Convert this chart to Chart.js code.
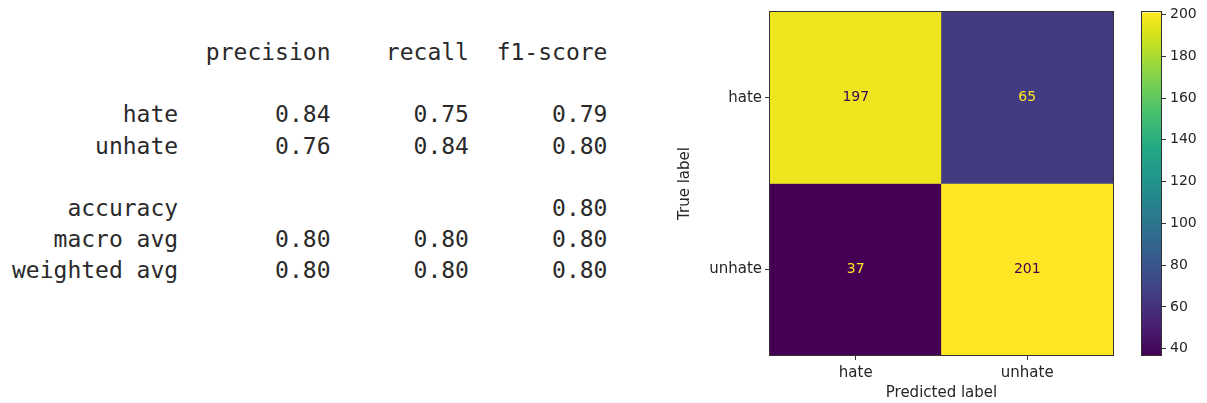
<!DOCTYPE html>
<html>
<head>
<meta charset="utf-8">
<script src="https://cdn.jsdelivr.net/npm/chart.js@4.4.0/dist/chart.umd.min.js"></script>
<style>
  body { margin: 0; background: #fff; width: 1207px; height: 403px; overflow: hidden; position: relative; }
  #report { position: absolute; left: 12px; top: 37px; margin: 0; font-family: "DejaVu Sans Mono", monospace; font-size: 23px; line-height: 31.2px; color: #2a2a2a; }
  #cmBox { position: absolute; left: 660px; top: 0; width: 480px; height: 403px; }
  #cbBox { position: absolute; left: 1130px; top: 0; width: 77px; height: 403px; }
</style>
</head>
<body>
<pre id="report"></pre>
<div id="cmBox"><canvas id="cm" width="480" height="403"></canvas></div>
<div id="cbBox"><canvas id="cb" width="77" height="403"></canvas></div>
<script>
// classification report
const reportRows = ["hate", "unhate", "macro avg", "weighted avg"];
const precision = [0.84, 0.76, 0.80, 0.80];
const recall = [0.75, 0.84, 0.80, 0.80];
const f1 = [0.79, 0.80, 0.80, 0.80];
const accuracy = 0.80;

// confusion matrix (rows = true label, columns = predicted label)
const labels = ["hate", "unhate"];
const trueHate = [197, 65];
const trueUnhate = [37, 201];
const cbTicks = [40, 60, 80, 100, 120, 140, 160, 180, 200];

const textColor = "#262626";
const lineColor = "#333";

// build the report text the way sklearn lays it out
const w = 12;
function row(name, vals) {
    return name.padStart(w) + " " + vals.map(v => " " + v.toFixed(2).padStart(9)).join("");
}
let lines = [];
lines.push(" ".repeat(w) + " " + ["precision", "recall", "f1-score"].map(h => " " + h.padStart(9)).join(""));
lines.push("");
lines.push(row(reportRows[0], [precision[0], recall[0], f1[0]]));
lines.push(row(reportRows[1], [precision[1], recall[1], f1[1]]));
lines.push("");
lines.push("accuracy".padStart(w) + " " + " ".repeat(20) + " " + accuracy.toFixed(2).padStart(9));
lines.push(row(reportRows[2], [precision[2], recall[2], f1[2]]));
lines.push(row(reportRows[3], [precision[3], recall[3], f1[3]]));
document.getElementById("report").textContent = lines.join("\n");

// viridis
const viridisStops = [
    [0, "#440154"], [0.1, "#482475"], [0.2, "#414487"], [0.3, "#355f8d"],
    [0.4, "#2a788e"], [0.5, "#21918c"], [0.6, "#22a884"], [0.7, "#44bf70"],
    [0.8, "#7ad151"], [0.9, "#bddf26"], [0.95, "#dfe318"], [1, "#fde725"]
];
function hex(c) { return [1, 3, 5].map(i => parseInt(c.substr(i, 2), 16)); }
function viridis(t) {
    t = Math.max(0, Math.min(1, t));
    for (let i = 1; i < viridisStops.length; i++) {
        if (t <= viridisStops[i][0]) {
            const [t0, c0] = viridisStops[i - 1], [t1, c1] = viridisStops[i];
            const f = (t - t0) / (t1 - t0);
            const a = hex(c0), b = hex(c1);
            return "rgb(" + a.map((v, k) => Math.round(v + (b[k] - v) * f)).join(",") + ")";
        }
    }
    return viridisStops[viridisStops.length - 1][1];
}

const all = trueHate.concat(trueUnhate);
const vmin = Math.min(...all), vmax = Math.max(...all);
const thresh = (vmin + vmax) / 2;
const norm = v => (v - vmin) / (vmax - vmin);

Chart.defaults.font.family = "'DejaVu Sans', sans-serif";
Chart.defaults.font.size = 15;
Chart.defaults.color = textColor;

const frame = {
    id: "frame",
    afterDraw(chart) {
        const a = chart.chartArea, ctx = chart.ctx;
        ctx.save();
        ctx.strokeStyle = lineColor;
        ctx.lineWidth = 1;
        ctx.strokeRect(Math.round(a.left) - 0.5, Math.round(a.top) - 0.5, Math.round(a.right - a.left) + 1, Math.round(a.bottom - a.top) + 1);
        ctx.restore();
    }
};

const cellText = {
    id: "cellText",
    afterDatasetsDraw(chart) {
        const ctx = chart.ctx;
        ctx.save();
        ctx.font = "14px 'DejaVu Sans'";
        ctx.textAlign = "center";
        ctx.textBaseline = "middle";
        chart.data.datasets.forEach((ds, i) => {
            chart.getDatasetMeta(i).data.forEach((bar, j) => {
                const v = ds.values[j];
                ctx.fillStyle = v < thresh ? viridis(1) : viridis(0);
                ctx.fillText(String(v), bar.x, (bar.y + bar.base) / 2);
            });
        });
        ctx.restore();
    }
};

const rowsData = [trueHate, trueUnhate];
new Chart(document.getElementById("cm"), {
    type: "bar",
    data: {
        labels: labels,
        datasets: rowsData.map((vals, r) => ({
            label: labels[r],
            data: vals.map(() => [r, r + 1]),
            values: vals,
            backgroundColor: vals.map(v => viridis(norm(v))),
            borderWidth: 0,
            grouped: false,
            barPercentage: 1,
            categoryPercentage: 1
        }))
    },
    options: {
        responsive: false,
        animation: false,
        layout: { padding: { left: 0, top: 11, right: 27, bottom: 0 } },
        plugins: { legend: { display: false }, tooltip: { enabled: false } },
        scales: {
            x: {
                type: "category",
                offset: true,
                grid: { offset: false, drawOnChartArea: false, tickLength: 5, color: lineColor },
                border: { display: true, color: lineColor },
                ticks: { padding: 4, maxRotation: 0 },
                title: { display: true, text: "Predicted label", padding: { top: 0, bottom: 0.5 } },
                afterFit: s => { s.height = 48; }
            },
            y: {
                type: "linear",
                min: 0,
                max: 2,
                reverse: true,
                afterBuildTicks: s => { s.ticks = labels.map((l, i) => ({ value: i + 0.5 })); },
                ticks: { padding: 3, callback: v => labels[Math.floor(v)] },
                grid: { drawOnChartArea: false, tickLength: 5, color: lineColor },
                border: { display: true, color: lineColor },
                title: { display: true, text: "True label", padding: { top: 16, bottom: 0 } },
                afterFit: s => { s.width = 110; }
            }
        }
    },
    plugins: [cellText, frame]
});

// colorbar
new Chart(document.getElementById("cb"), {
    type: "bar",
    data: {
        labels: [""],
        datasets: [{
            data: [[vmin, vmax]],
            borderWidth: 0,
            barPercentage: 1,
            categoryPercentage: 1,
            backgroundColor: ctx => {
                const a = ctx.chart.chartArea;
                if (!a) return viridis(0.5);
                const g = ctx.chart.ctx.createLinearGradient(0, a.bottom, 0, a.top);
                viridisStops.forEach(s => g.addColorStop(s[0], s[1]));
                return g;
            }
        }]
    },
    options: {
        responsive: false,
        animation: false,
        layout: { padding: { left: 12, top: 11, right: 0, bottom: 48 } },
        plugins: { legend: { display: false }, tooltip: { enabled: false } },
        scales: {
            x: { display: false },
            y: {
                type: "linear",
                position: "right",
                min: vmin,
                max: vmax,
                afterBuildTicks: s => { s.ticks = cbTicks.map(v => ({ value: v })); },
                ticks: { padding: 4, font: { size: 14 } },
                grid: { drawOnChartArea: false, tickLength: 5, color: lineColor },
                border: { display: true, color: lineColor },
                afterFit: s => { s.width = 46; }
            }
        }
    },
    plugins: [frame]
});
</script>
</body>
</html>
